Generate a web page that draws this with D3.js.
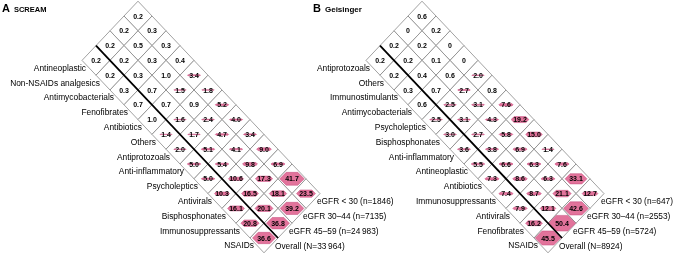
<!DOCTYPE html>
<html>
<head>
<meta charset="utf-8">
<script src="https://cdn.jsdelivr.net/npm/d3@7"></script>
<style>
  body { margin: 0; background: #fff; }
  svg { display: block; font-family: "Liberation Sans", Arial, sans-serif; will-change: transform; }
</style>
</head>
<body>
<div id="chart"></div>
<script>
// rows = drug classes, values per row: [eGFR<30, eGFR 30-44, eGFR 45-59, Overall]
var drugsA = ["Antineoplastic", "Non-NSAIDs analgesics", "Antimycobacterials", "Fenofibrates",
  "Antibiotics", "Others", "Antiprotozoals", "Anti-inflammatory", "Psycholeptics",
  "Antivirals", "Bisphosphonates", "Immunosuppressants", "NSAIDs"];
var groupsA = ["eGFR < 30 (n=1846)", "eGFR 30\u201344 (n=7135)", "eGFR 45\u201359 (n=24\u2009983)", "Overall (N=33\u2009964)"];
var valuesA = [
  [0.2, 0.2, 0.2, 0.2],
  [0.3, 0.5, 0.2, 0.2],
  [0.3, 0.3, 0.3, 0.3],
  [0.4, 1.0, 0.7, 0.7],
  [3.4, 1.5, 0.7, 1.0],
  [1.8, 0.9, 1.6, 1.4],
  [5.2, 2.4, 1.7, 2.0],
  [4.0, 4.7, 5.1, 5.0],
  [3.4, 4.1, 5.4, 5.0],
  [9.0, 9.8, 10.6, 10.3],
  [6.9, 17.3, 16.5, 16.1],
  [41.7, 18.1, 20.1, 20.8],
  [23.5, 39.2, 36.8, 36.6]
];

var drugsB = ["Antiprotozoals", "Others", "Immunostimulants", "Antimycobacterials",
  "Psycholeptics", "Bisphosphonates", "Anti-inflammatory", "Antineoplastic", "Antibiotics",
  "Immunosuppressants", "Antivirals", "Fenofibrates", "NSAIDs"];
var groupsB = ["eGFR < 30 (n=647)", "eGFR 30\u201344 (n=2553)", "eGFR 45\u201359 (n=5724)", "Overall (N=8924)"];
var valuesB = [
  [0.6, 0, 0.2, 0.2],
  [0.2, 0.2, 0.2, 0.2],
  [0, 0.1, 0.4, 0.3],
  [0, 0.6, 0.7, 0.6],
  [2.0, 2.7, 2.5, 2.5],
  [0.8, 3.1, 3.1, 3.0],
  [7.6, 4.3, 2.7, 3.6],
  [19.2, 5.8, 3.8, 5.5],
  [15.0, 6.9, 6.6, 7.3],
  [1.4, 6.3, 8.6, 7.4],
  [7.6, 6.3, 8.7, 7.9],
  [33.1, 21.1, 12.1, 16.2],
  [12.7, 42.6, 50.4, 45.5]
];

var W = 675, H = 253;
var dx = 14, dy = 14.8;   // half width / half height of one diamond cell

var svg = d3.select("#chart").append("svg")
  .attr("width", W)
  .attr("height", H);

// diagonal steps -> pixels
var stepX = d3.scaleLinear().domain([0, 1]).range([0, dx]);
var stepY = d3.scaleLinear().domain([0, 1]).range([0, dy]);
// hexagon size from value
var hexH = d3.scaleLinear().domain([0, 50]).range([0, 15.5]);
var hexW = d3.scaleLinear().domain([0, 50]).range([12, 27]);

function hexPath(v) {
  var w = hexW(v) / 2, h = hexH(v) / 2;
  return "M" + (-w) + ",0L" + (-w + h) + "," + (-h) + "L" + (w - h) + "," + (-h) +
    "L" + w + ",0L" + (w - h) + "," + h + "L" + (-w + h) + "," + h + "Z";
}

function fmt(v) { return v === 0 ? "0" : v.toFixed(1); }

function drawPanel(opt) {
  var g = svg.append("g").attr("transform", "translate(" + opt.x0 + "," + opt.y0 + ")");
  var nRows = opt.drugs.length, nCols = opt.groups.length;

  var cells = [];
  opt.values.forEach(function(row, i) {
    row.forEach(function(v, j) {
      cells.push({i: i, j: j, v: v, x: stepX(i - j), y: stepY(i + j)});
    });
  });

  // cell diamonds
  g.selectAll(".cell")
    .data(cells)
    .enter().append("path")
    .attr("class", "cell")
    .attr("transform", function(d) { return "translate(" + d.x + "," + d.y + ")"; })
    .attr("d", "M0," + (-dy) + "L" + dx + ",0L0," + dy + "L" + (-dx) + ",0Z")
    .style("fill", "#fff")
    .style("stroke", "#7a7a7a")
    .style("stroke-width", 0.7);

  // pink hexagons sized by value
  g.selectAll(".hex")
    .data(cells.filter(function(d) { return d.v > 1.0; }))
    .enter().append("path")
    .attr("class", "hex")
    .attr("transform", function(d) { return "translate(" + d.x + "," + d.y + ")"; })
    .attr("d", function(d) { return hexPath(d.v); })
    .style("fill", "#e2739b")
    .style("stroke", "#c4487a")
    .style("stroke-width", 0.5);

  // values
  g.selectAll(".val")
    .data(cells)
    .enter().append("text")
    .attr("class", "val")
    .attr("x", function(d) { return d.x; })
    .attr("y", function(d) { return d.y; })
    .attr("dy", "0.36em")
    .attr("text-anchor", "middle")
    .style("font-size", "7px")
    .style("font-weight", "bold")
    .style("fill", "#000")
    .text(function(d) { return fmt(d.v); });

  // separator between eGFR columns and Overall
  var last = nCols - 1;
  g.append("line")
    .attr("x1", stepX(0 - last))
    .attr("y1", stepY(0 + last) - dy)
    .attr("x2", stepX(nRows - 1 - last) + dx)
    .attr("y2", stepY(nRows - 1 + last))
    .style("stroke", "#000")
    .style("stroke-width", 1.8);

  // drug labels along the lower-left edge
  g.selectAll(".drug")
    .data(opt.drugs)
    .enter().append("text")
    .attr("class", "drug")
    .attr("x", function(d, i) { return stepX(i - last) - dx / 2 - 3; })
    .attr("y", function(d, i) { return stepY(i + last) + dy / 2; })
    .attr("dy", "0.35em")
    .attr("text-anchor", "end")
    .style("font-size", "8.4px")
    .style("fill", "#000")
    .text(function(d) { return d; });

  // eGFR group labels along the lower-right edge
  g.selectAll(".grp")
    .data(opt.groups)
    .enter().append("text")
    .attr("class", "grp")
    .attr("x", function(d, j) { return stepX(nRows - 1 - j) + dx / 2 + 4; })
    .attr("y", function(d, j) { return stepY(nRows - 1 + j) + dy / 2; })
    .attr("dy", "0.4em")
    .style("font-size", "8.3px")
    .style("fill", "#000")
    .text(function(d) { return d; });

  // panel title
  var t = svg.append("text")
    .attr("x", opt.tx)
    .attr("y", 12)
    .style("font-weight", "bold")
    .style("fill", "#000");
  t.append("tspan").style("font-size", "11px").text(opt.letter);
  t.append("tspan").attr("dx", 4).style("font-size", opt.smallCaps ? "7.5px" : "8px").text(opt.title);
}

drawPanel({x0: 138, y0: 16, tx: 2, letter: "A", title: "SCREAM", smallCaps: true,
  drugs: drugsA, groups: groupsA, values: valuesA});
drawPanel({x0: 422, y0: 16, tx: 313, letter: "B", title: "Geisinger", smallCaps: false,
  drugs: drugsB, groups: groupsB, values: valuesB});
</script>
</body>
</html>
